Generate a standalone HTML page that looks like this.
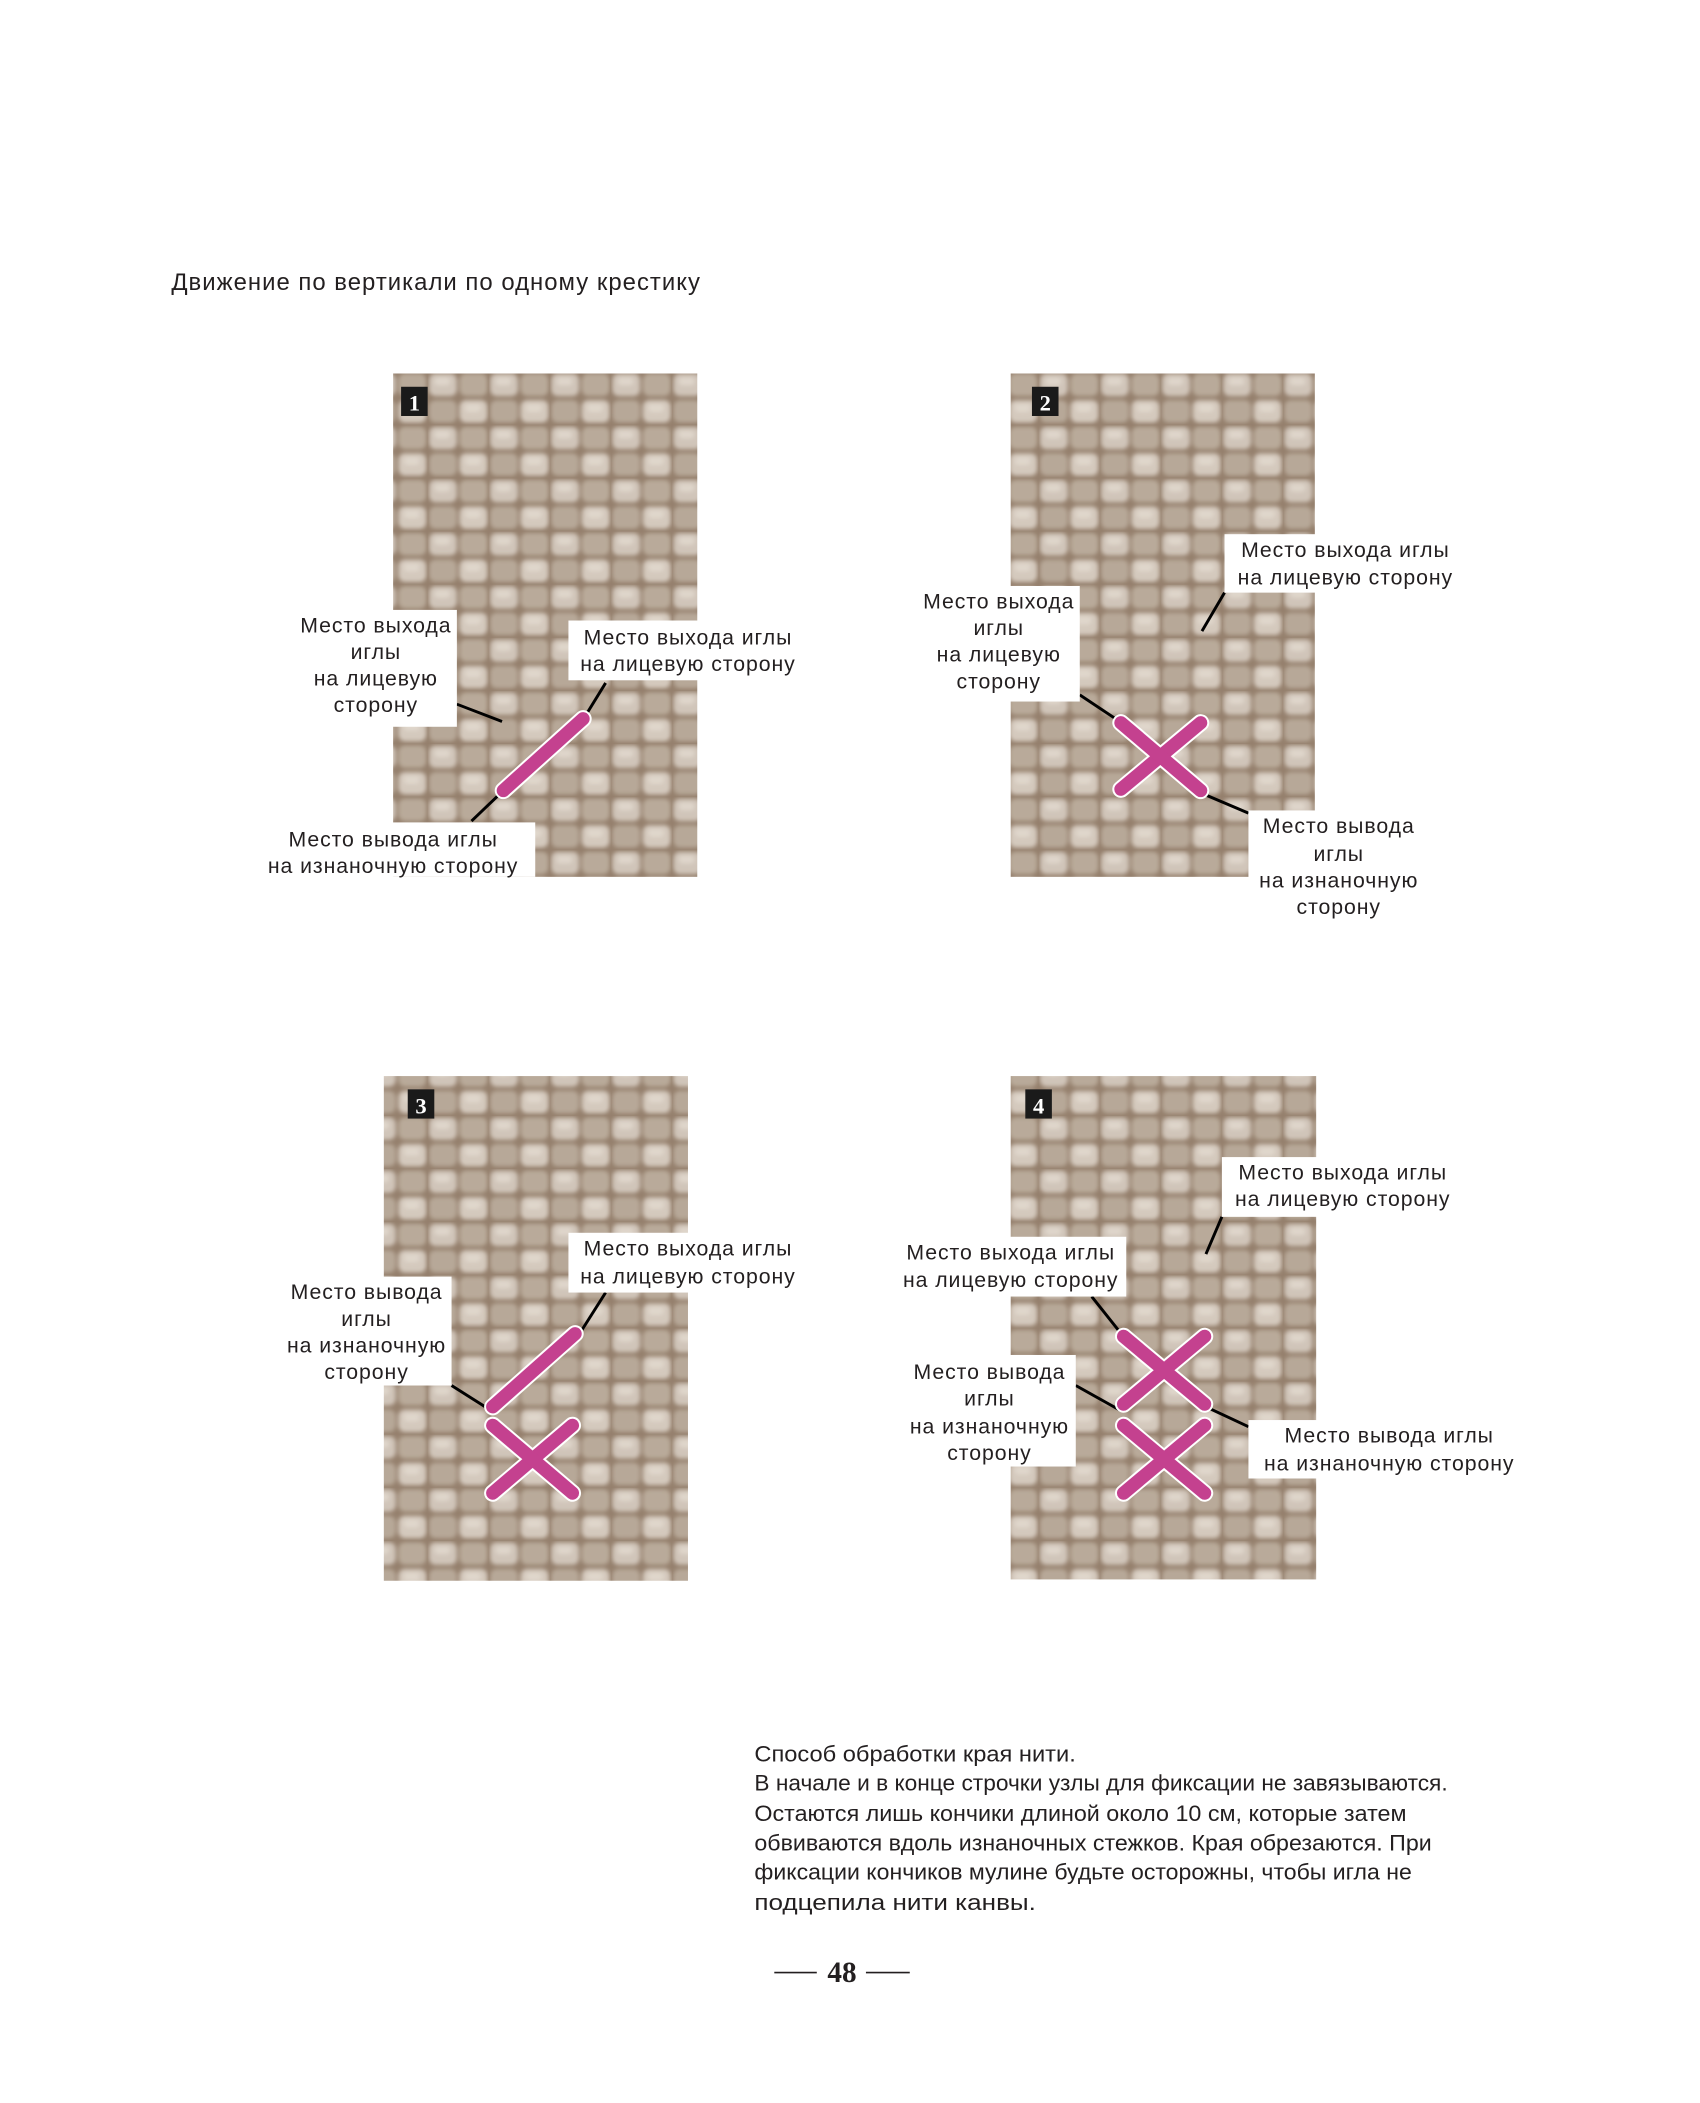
<!DOCTYPE html>
<html><head><meta charset="utf-8"><style>
html,body{margin:0;padding:0;background:#fff;}
svg{display:block;}
text{font-family:"Liberation Sans","DejaVu Sans",sans-serif;fill:#231f20;}
.l{font-size:16px;text-anchor:middle;letter-spacing:0.7px;}
</style></head><body>
<svg width="1700" height="2103" viewBox="0 0 1280 1583" xmlns="http://www.w3.org/2000/svg">
<defs>
<filter id="b"><feGaussianBlur stdDeviation="1.6"/></filter>
<pattern id="w" width="46" height="40" patternUnits="userSpaceOnUse">
<rect width="46" height="40" fill="#95806d"/>
<g filter="url(#b)">
<rect x="1" y="1" width="21" height="17" rx="5" fill="#d0c5b9"/>
<rect x="24" y="1" width="21" height="17" rx="5" fill="#b9aa9a"/>
<rect x="1" y="21" width="21" height="17" rx="5" fill="#b7a898"/>
<rect x="24" y="21" width="21" height="17" rx="5" fill="#d4c9bd"/>
<rect x="5" y="4" width="12" height="6" rx="3" fill="#e6ddd3" opacity=".7"/>
<rect x="28" y="24" width="12" height="6" rx="3" fill="#e6ddd3" opacity=".7"/>
</g>
</pattern>
</defs>
<text x="129" y="218" style="font-size:18px" textLength="398" lengthAdjust="spacing">Движение по вертикали по одному крестику</text>

<rect x="296" y="281" width="229" height="379" fill="url(#w)"/>
<rect x="761" y="281" width="229" height="379" fill="url(#w)"/>
<rect x="289" y="810" width="229" height="380" fill="url(#w)"/>
<rect x="761" y="810" width="230" height="379" fill="url(#w)"/>

<rect x="302" y="291" width="20" height="22" fill="#1a1a1a"/><text x="312" y="309" text-anchor="middle" style="fill:#fff;font-family:'Liberation Serif';font-size:17px;font-weight:bold">1</text>
<rect x="777" y="291" width="20" height="22" fill="#1a1a1a"/><text x="787" y="309" text-anchor="middle" style="fill:#fff;font-family:'Liberation Serif';font-size:17px;font-weight:bold">2</text>
<rect x="307" y="820" width="20" height="22" fill="#1a1a1a"/><text x="317" y="838" text-anchor="middle" style="fill:#fff;font-family:'Liberation Serif';font-size:17px;font-weight:bold">3</text>
<rect x="772" y="820" width="20" height="22" fill="#1a1a1a"/><text x="782" y="838" text-anchor="middle" style="fill:#fff;font-family:'Liberation Serif';font-size:17px;font-weight:bold">4</text>

<g stroke="#000" stroke-width="2.2" fill="none">
<line x1="344" y1="530" x2="378" y2="543"/>
<line x1="456" y1="514" x2="440" y2="540"/>
<line x1="378" y1="596" x2="355" y2="618"/>
<line x1="813" y1="523" x2="843" y2="543"/>
<line x1="922" y1="446" x2="905" y2="475"/>
<line x1="907" y1="598" x2="940" y2="612"/>
<line x1="340" y1="1043" x2="370" y2="1062"/>
<line x1="456" y1="973" x2="437" y2="1003"/>
<line x1="920" y1="916" x2="908" y2="944"/>
<line x1="822" y1="976" x2="845" y2="1005"/>
<line x1="810" y1="1043" x2="844" y2="1062"/>
<line x1="910" y1="1060" x2="940" y2="1074"/>
</g>

<g stroke-linecap="round" fill="none">
<g stroke="#fff" stroke-width="13">
<line x1="379" y1="595" x2="439" y2="541"/>
<line x1="844" y1="544" x2="904" y2="595"/><line x1="844" y1="594" x2="904" y2="544"/>
<line x1="371" y1="1059" x2="433" y2="1004"/>
<line x1="371" y1="1073" x2="431" y2="1124"/><line x1="371" y1="1124" x2="431" y2="1073"/>
<line x1="846" y1="1006" x2="907" y2="1057"/><line x1="846" y1="1057" x2="907" y2="1006"/>
<line x1="846" y1="1073" x2="907" y2="1124"/><line x1="846" y1="1124" x2="907" y2="1073"/>
</g>
<g stroke="#c4418f" stroke-width="10">
<line x1="379" y1="595" x2="439" y2="541"/>
<line x1="844" y1="594" x2="904" y2="544"/><line x1="844" y1="544" x2="904" y2="595"/>
<line x1="371" y1="1059" x2="433" y2="1004"/>
<line x1="371" y1="1124" x2="431" y2="1073"/><line x1="371" y1="1073" x2="431" y2="1124"/>
<line x1="846" y1="1057" x2="907" y2="1006"/><line x1="846" y1="1006" x2="907" y2="1057"/>
<line x1="846" y1="1124" x2="907" y2="1073"/><line x1="846" y1="1073" x2="907" y2="1124"/>
</g>
</g>

<g fill="#fff">
<rect x="222" y="459" width="122" height="88"/>
<rect x="428" y="467" width="176" height="45"/>
<rect x="196" y="619" width="207" height="41"/>
<rect x="690" y="441" width="123" height="87"/>
<rect x="922" y="402" width="178" height="44"/>
<rect x="940" y="610" width="136" height="85"/>
<rect x="212" y="961" width="128" height="82"/>
<rect x="428" y="928" width="176" height="45"/>
<rect x="920" y="871" width="178" height="45"/>
<rect x="676" y="931" width="172" height="45"/>
<rect x="676" y="1020" width="134" height="84"/>
<rect x="940" y="1069" width="205" height="44"/>
</g>

<text class="l" x="283" y="476">Место выхода</text><text class="l" x="283" y="496">иглы</text><text class="l" x="283" y="516">на лицевую</text><text class="l" x="283" y="536">сторону</text>
<text class="l" x="518" y="485">Место выхода иглы</text><text class="l" x="518" y="505">на лицевую сторону</text>
<text class="l" x="296" y="637">Место вывода иглы</text><text class="l" x="296" y="657">на изнаночную сторону</text>

<text class="l" x="752" y="458">Место выхода</text><text class="l" x="752" y="478">иглы</text><text class="l" x="752" y="498">на лицевую</text><text class="l" x="752" y="518">сторону</text>
<text class="l" x="1013" y="419">Место выхода иглы</text><text class="l" x="1013" y="440">на лицевую сторону</text>
<text class="l" x="1008" y="627">Место вывода</text><text class="l" x="1008" y="648">иглы</text><text class="l" x="1008" y="668">на изнаночную</text><text class="l" x="1008" y="688">сторону</text>

<text class="l" x="276" y="978">Место вывода</text><text class="l" x="276" y="998">иглы</text><text class="l" x="276" y="1018">на изнаночную</text><text class="l" x="276" y="1038">сторону</text>
<text class="l" x="518" y="945">Место выхода иглы</text><text class="l" x="518" y="966">на лицевую сторону</text>

<text class="l" x="1011" y="888">Место выхода иглы</text><text class="l" x="1011" y="908">на лицевую сторону</text>
<text class="l" x="761" y="948">Место выхода иглы</text><text class="l" x="761" y="969">на лицевую сторону</text>
<text class="l" x="745" y="1038">Место вывода</text><text class="l" x="745" y="1058">иглы</text><text class="l" x="745" y="1079">на изнаночную</text><text class="l" x="745" y="1099">сторону</text>
<text class="l" x="1046" y="1086">Место вывода иглы</text><text class="l" x="1046" y="1107">на изнаночную сторону</text>

<g style="font-size:16.5px">
<text x="568" y="1326" textLength="242" lengthAdjust="spacingAndGlyphs">Способ обработки края нити.</text>
<text x="568" y="1348" textLength="522" lengthAdjust="spacingAndGlyphs">В начале и в конце строчки узлы для фиксации не завязываются.</text>
<text x="568" y="1371" textLength="491" lengthAdjust="spacingAndGlyphs">Остаются лишь кончики длиной около 10 см, которые затем</text>
<text x="568" y="1393" textLength="510" lengthAdjust="spacingAndGlyphs">обвиваются вдоль изнаночных стежков. Края обрезаются. При</text>
<text x="568" y="1415" textLength="495" lengthAdjust="spacingAndGlyphs">фиксации кончиков мулине будьте осторожны, чтобы игла не</text>
<text x="568" y="1438" textLength="212" lengthAdjust="spacingAndGlyphs">подцепила нити канвы.</text>
</g>

<line x1="583" y1="1485" x2="615" y2="1485" stroke="#231f20" stroke-width="1.3"/>
<line x1="652" y1="1485" x2="685" y2="1485" stroke="#231f20" stroke-width="1.3"/>
<text x="634" y="1492" text-anchor="middle" style="font-family:'Liberation Serif',serif;font-weight:bold;font-size:22px">48</text>
</svg>
</body></html>
